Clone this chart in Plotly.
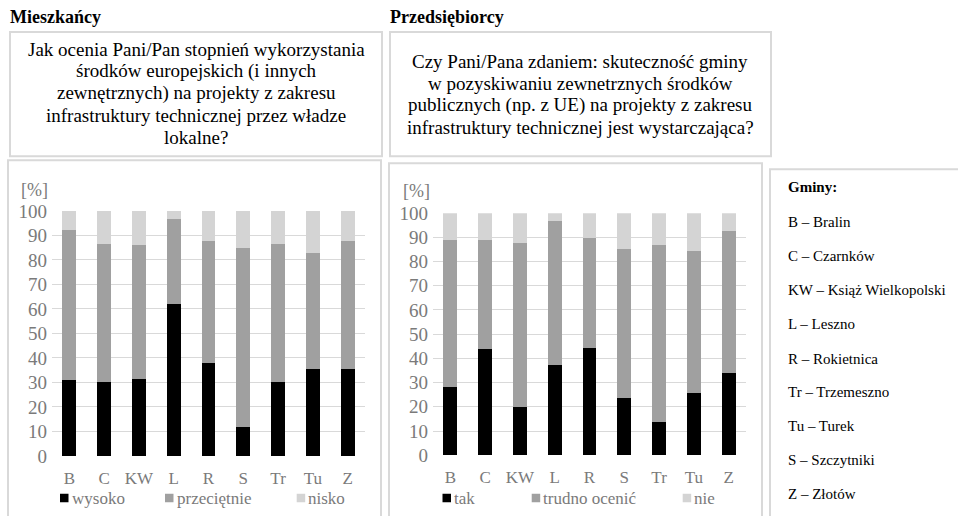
import plotly.graph_objects as go

W, H = 958, 516
FONT = "Liberation Serif"

categories = ["B", "C", "KW", "L", "R", "S", "Tr", "Tu", "Z"]
y_ticks = [0, 10, 20, 30, 40, 50, 60, 70, 80, 90, 100]

# Mieszkańcy
res_names = ["wysoko", "przeciętnie", "nisko"]
res_high = [31.0, 30.0, 31.3, 62.0, 38.0, 12.0, 30.0, 35.5, 35.5]
res_mid = [61.0, 56.5, 54.7, 34.7, 49.8, 72.8, 56.4, 47.5, 52.3]
res_low = [8.0, 13.5, 14.0, 3.3, 12.2, 15.2, 13.6, 17.0, 12.2]

# Przedsiębiorcy
ent_names = ["tak", "trudno ocenić", "nie"]
ent_high = [28.0, 44.0, 20.0, 37.3, 44.5, 23.8, 13.8, 25.6, 33.8]
ent_mid = [61.0, 44.8, 67.7, 59.5, 45.3, 61.4, 73.1, 58.8, 58.8]
ent_low = [11.0, 11.2, 12.3, 3.2, 10.2, 14.8, 13.1, 15.6, 7.4]

colors = ["#000000", "#a0a0a0", "#d4d4d4"]

title_left = "Mieszkańcy"
title_right = "Przedsiębiorcy"
q_left = ["Jak ocenia Pani/Pan stopnień wykorzystania",
          "środków europejskich (i innych",
          "zewnętrznych) na projekty z zakresu",
          "infrastruktury technicznej przez władze",
          "lokalne?"]
q_right = ["Czy Pani/Pana zdaniem: skuteczność gminy",
           "w pozyskiwaniu zewnetrznych środków",
           "publicznych (np. z UE) na projekty z zakresu",
           "infrastruktury technicznej jest wystarczająca?"]
legend_title = "Gminy:"
legend_items = ["B – Bralin", "C – Czarnków", "KW – Książ Wielkopolski", "L – Leszno",
                "R – Rokietnica", "Tr – Trzemeszno", "Tu – Turek", "S – Szczytniki",
                "Z – Złotów"]


def px(x):
    return x / W


def py(y):
    # vertical placement helper (pixel from top -> paper fraction), with
    # a small correction measured from the rendered output
    yy = (y - 10.9) / 0.959
    return 1 - yy / H


fig = go.Figure()
for vals, name, c in zip([res_high, res_mid, res_low], res_names, colors):
    fig.add_bar(x=categories, y=vals, name=name, marker=dict(color=c, line=dict(width=0)),
                xaxis="x", yaxis="y", showlegend=False)
for vals, name, c in zip([ent_high, ent_mid, ent_low], ent_names, colors):
    fig.add_bar(x=categories, y=vals, name=name, marker=dict(color=c, line=dict(width=0)),
                xaxis="x2", yaxis="y2", showlegend=False)

tickfont = dict(family=FONT, size=19, color="#7a7a7a")
xtickfont = dict(family=FONT, size=17, color="#7a7a7a")
common_y = dict(range=[0, 100], tickvals=y_ticks, showgrid=True, gridcolor="#d9d9d9",
                gridwidth=1, zeroline=False, showline=False, ticks="", tickfont=tickfont,
                ticklabelstandoff=4, fixedrange=True)
common_x = dict(showgrid=False, showline=False, ticks="", tickfont=xtickfont,
                ticklabelstandoff=10, fixedrange=True)

fig.update_layout(
    width=W, height=H, margin=dict(l=0, r=0, t=0, b=0), autosize=False,
    paper_bgcolor="white", plot_bgcolor="white",
    barmode="stack", bargap=0.6,
    xaxis=dict(domain=[px(52), px(365)], anchor="y", **common_x),
    yaxis=dict(domain=[py(456.7), py(211.7)], anchor="x", **common_y),
    xaxis2=dict(domain=[px(433), px(746)], anchor="y2", **common_x),
    yaxis2=dict(domain=[py(456), py(214)], anchor="x2", **common_y),
)

shapes = []
border = dict(color="#d9d9d9", width=2)
# boxes
for (x0, y0, x1, y1) in [(10, 33, 382, 157), (390, 33, 771, 157),
                         (8, 161, 381, 540), (389, 164, 762, 540), (770, 170, 970, 540)]:
    shapes.append(dict(type="rect", xref="paper", yref="paper", x0=px(x0), x1=px(x1),
                       y0=py(y1), y1=py(y0), line=border, fillcolor="rgba(0,0,0,0)", layer="below"))

annotations = []
annotations.append(dict(text="<b>%s</b>" % title_left, x=px(8), y=py(18), xref="paper", yref="paper",
                        xanchor="left", yanchor="middle", showarrow=False,
                        font=dict(family=FONT, size=18, color="#000")))
annotations.append(dict(text="<b>%s</b>" % title_right, x=px(388), y=py(18), xref="paper", yref="paper",
                        xanchor="left", yanchor="middle", showarrow=False,
                        font=dict(family=FONT, size=18, color="#000")))
for i, line in enumerate(q_left):
    annotations.append(dict(text=line, x=px(196), y=py(50 + 22 * i), xref="paper", yref="paper",
                            xanchor="center", yanchor="middle", showarrow=False,
                            font=dict(family=FONT, size=19, color="#000")))
for i, line in enumerate(q_right):
    annotations.append(dict(text=line, x=px(580), y=py(62 + 22 * i), xref="paper", yref="paper",
                            xanchor="center", yanchor="middle", showarrow=False,
                            font=dict(family=FONT, size=19, color="#000")))
# [%] labels
for xc, yc in [(34.5, 191), (416.5, 192)]:
    annotations.append(dict(text="[%]", x=px(xc), y=py(yc), xref="paper", yref="paper",
                            xanchor="center", yanchor="middle", showarrow=False,
                            font=dict(family=FONT, size=18, color="#7a7a7a")))

# chart legends (square + label)
legend_pos = [
    (res_names, [60, 165, 296.7], 499),
    (ent_names, [442.5, 531.7, 682.7], 499),
]
for names, xs, yc in legend_pos:
    for name, x0, c in zip(names, xs, colors):
        shapes.append(dict(type="rect", xref="paper", yref="paper", x0=px(x0), x1=px(x0 + 8.5),
                           y0=py(yc + 4), y1=py(yc - 4.5), line=dict(width=0), fillcolor=c))
        annotations.append(dict(text=name, x=px(x0 + 9.5), y=py(yc), xref="paper", yref="paper",
                                xanchor="left", yanchor="middle", showarrow=False,
                                font=dict(family=FONT, size=17, color="#7a7a7a")))

# Gminy legend
annotations.append(dict(text="<b>%s</b>" % legend_title, x=px(786), y=py(188), xref="paper", yref="paper",
                        xanchor="left", yanchor="middle", showarrow=False,
                        font=dict(family=FONT, size=15, color="#000")))
gy = [223, 257, 291, 325, 360, 393, 427, 461, 495]
for t, yy in zip(legend_items, gy):
    annotations.append(dict(text=t, x=px(786), y=py(yy), xref="paper", yref="paper",
                            xanchor="left", yanchor="middle", showarrow=False,
                            font=dict(family=FONT, size=15, color="#000")))

fig.update_layout(shapes=shapes, annotations=annotations)
fig.write_html(
    "out.html",
    config={"displayModeBar": False, "staticPlot": True},
    post_script=(
        "document.documentElement.style.margin='0';document.documentElement.style.padding='0';"
        "document.documentElement.style.overflow='hidden';"
        "document.body.style.margin='0';document.body.style.padding='0';"
        "document.body.style.overflow='hidden';document.body.style.height='516px';"
        "var d=document.getElementById('{plot_id}');"
        "d.style.position='absolute';d.style.top='0px';d.style.left='0px';"
    ),
)
